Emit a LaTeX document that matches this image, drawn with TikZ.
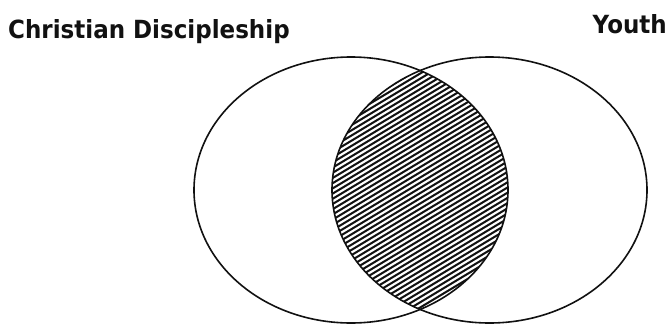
\documentclass[tikz,border=0pt]{standalone}
\usepackage{fontspec}
\usepackage{tikz}
\setsansfont{DejaVu Sans}[FakeStretch=0.92]
\usetikzlibrary{positioning, calc}
\definecolor{inkblack}{HTML}{111111}
\tikzset{
  % set ellipses
  venn/.style={draw=inkblack, line width=1.6pt},
  % hatching inside the overlap
  hatch/.style={draw=inkblack, line width=2pt},
  % set titles
  settitle/.style={font=\sffamily\bfseries\fontsize{25}{29}\selectfont,
                   text=inkblack, inner sep=0pt},
}

\begin{document}
\begin{tikzpicture}[x=1pt, y=-1pt]
\useasboundingbox (0,0) rectangle (670,325);

% ── Set centres ───────────────────────────────────────────────────────────────
\coordinate (cdisc)  at (351, 190);
\coordinate (cyouth) at (489.5, 190);

% ── Titles ────────────────────────────────────────────────────────────────────
\node[settitle, anchor=base west] (disc)  at (8, 38)   {Christian Discipleship};
\node[settitle, anchor=base east] (youth) at (667, 33) {Youth};

% ── Overlap hatching ──────────────────────────────────────────────────────────
\begin{scope}
  \clip (cdisc) ellipse [x radius=157, y radius=133];
  \clip (cyouth) ellipse [x radius=157.5, y radius=133];
  \foreach \c in {40,45.2,...,470}
    \draw[hatch] (320, \c) -- (520, \c-120);
\end{scope}

% ── Sets ──────────────────────────────────────────────────────────────────────
\draw[venn] (cdisc)  ellipse [x radius=157, y radius=133];
\draw[venn] (cyouth) ellipse [x radius=157.5, y radius=133];

\end{tikzpicture}
\end{document}
